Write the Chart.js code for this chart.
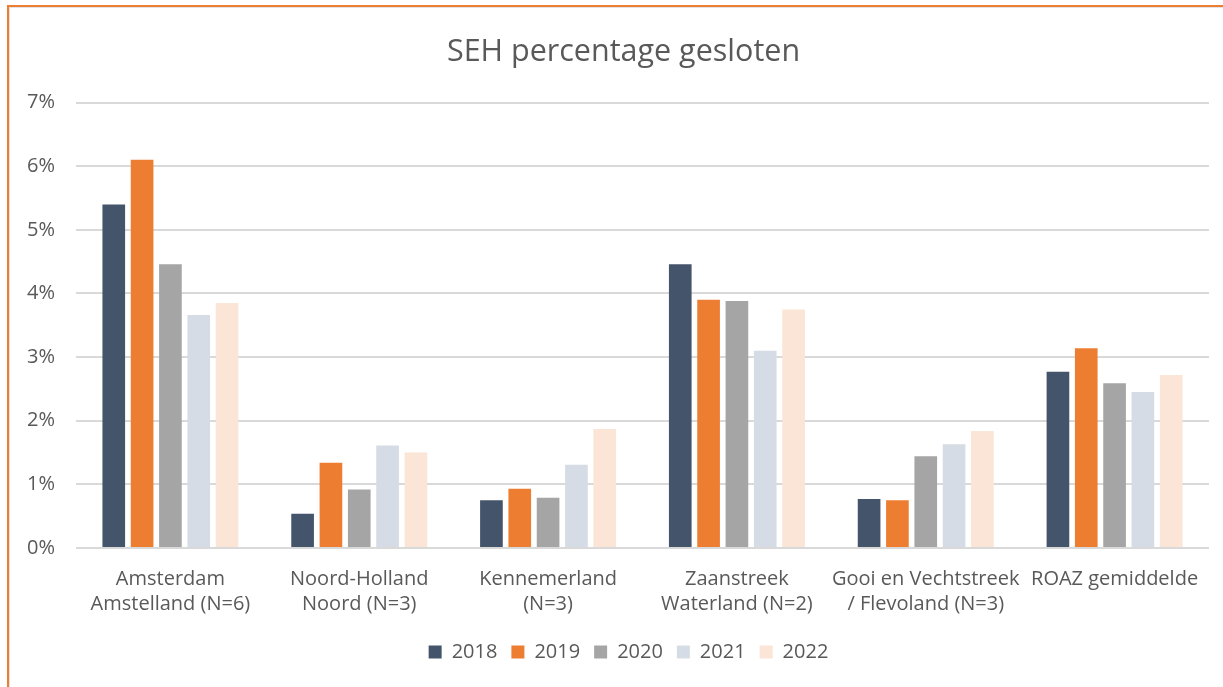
<!DOCTYPE html>
<html>
<head>
<meta charset="utf-8">
<script src="https://cdn.jsdelivr.net/npm/chart.js@4"></script>
<style>
  html, body { margin: 0; padding: 0; background: #fff; }
  #wrap { position: relative; width: 1223px; height: 687px; overflow: hidden; }
  #myChart { position: absolute; left: 0; top: 0; }
  .frame { position: absolute; left: 7px; top: 5px; right: -10px; bottom: -10px;
           border-top: 2px solid #ED7D31; border-left: 2px solid #ED7D31; }
  .inner { position: absolute; left: 9px; top: 7px; right: -10px; bottom: -10px;
           border-top: 1px solid #e3e3e3; border-left: 1px solid #e3e3e3; }
</style>
</head>
<body>
<div id="wrap">
  <canvas id="myChart" width="1223" height="687"></canvas>
  <div class="frame"></div>
  <div class="inner"></div>
</div>
<script>
const ctx = document.getElementById('myChart').getContext('2d');

Chart.defaults.font.family = '"Open Sans", sans-serif';
Chart.defaults.font.size = 20;
Chart.defaults.color = '#595959';

const labels = [
  ['Amsterdam', 'Amstelland (N=6)'],
  ['Noord-Holland', 'Noord (N=3)'],
  ['Kennemerland', '(N=3)'],
  ['Zaanstreek', 'Waterland (N=2)'],
  ['Gooi en Vechtstreek', '/ Flevoland (N=3)'],
  'ROAZ gemiddelde',
];

const years = ['2018', '2019', '2020', '2021', '2022'];
const colors = ['#44546A', '#ED7D31', '#A5A5A5', '#D6DCE5', '#FBE5D6'];

// percentage gesloten per jaar
const v2018 = [5.40, 0.54, 0.75, 4.46, 0.77, 2.77];
const v2019 = [6.10, 1.34, 0.93, 3.90, 0.75, 3.14];
const v2020 = [4.46, 0.92, 0.79, 3.88, 1.44, 2.59];
const v2021 = [3.66, 1.61, 1.31, 3.10, 1.63, 2.45];
const v2022 = [3.85, 1.50, 1.87, 3.75, 1.84, 2.72];

const yTicks = [0, 1, 2, 3, 4, 5, 6, 7];

const series = [v2018, v2019, v2020, v2021, v2022];

const data = {
  labels: labels,
  datasets: series.map((values, i) => ({
    label: years[i],
    data: values,
    backgroundColor: colors[i],
    borderWidth: 0,
  }))
}

// title and legend sit a bit right of the canvas centre
const shiftBlocks = {
  id: 'shiftBlocks',
  afterLayout(chart) {
    const t = chart.titleBlock;
    const l = chart.legend;
    t.left += 14; t.right += 14;
    l.left += 19; l.right += 19;
  }
};

const config = {
  type: 'bar',
  data: data,
  plugins: [shiftBlocks],
  options: {
    responsive: false,
    animation: false,
    layout: {
      padding: {
        left: 10,
        right: 14,
        top: 34,
        bottom: 15
      }
    },
    datasets: {
      bar: {
        categoryPercentage: 0.75,
        barPercentage: 0.8,
      }
    },
    plugins: {
      title: {
        display: true,
        text: 'SEH percentage gesloten',
        font: { size: 30.5, weight: 'normal' },
        color: '#595959',
        padding: { top: 0, bottom: 32 }
      },
      legend: {
        position: 'bottom',
        labels: {
          boxWidth: 13,
          boxHeight: 13,
          padding: 14,
          font: { size: 20 }
        }
      },
      tooltip: {
        enabled: false,
      },
    },
    scales: {
      x: {
        grid: {
          display: false,
        },
        border: {
          display: false,
        },
        ticks: {
          maxRotation: 0,
          autoSkip: false,
          padding: 11,
          font: { size: 20, lineHeight: 1.25 },
        }
      },
      y: {
        min: 0,
        max: yTicks[yTicks.length - 1],
        afterFit: function (scale) {
          scale.width = 66;
        },
        afterBuildTicks: function (scale) {
          scale.ticks = yTicks.map(v => ({ value: v }));
        },
        grid: {
          color: '#d9d9d9',
          lineWidth: 2,
          drawTicks: false,
        },
        border: {
          display: false,
        },
        ticks: {
          padding: 21,
          callback: function (value) {
            return value + '%';
          },
        }
      }
    }
  }
}
const myChart = new Chart(ctx, config);
</script>
</body>
</html>
